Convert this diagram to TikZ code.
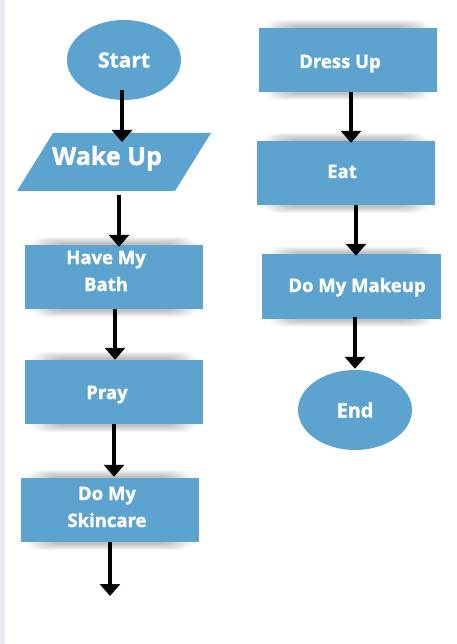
\documentclass[tikz,border=0pt]{standalone}
\usepackage{fontspec}
\setmainfont{Open Sans}[BoldFeatures={FakeBold=1.2}]
\usetikzlibrary{arrows.meta,calc,backgrounds,shapes.geometric}
\definecolor{boxblue}{RGB}{92,164,207}
\definecolor{stripgray}{RGB}{233,234,239}
\newcommand{\softshadow}[1]{%
  \foreach \k in {0,...,6}{%
    \fill[black,opacity=0.04,rounded corners=18pt]
      ($(#1.center)+(-86+3*\k,-40+\k)$) rectangle ($(#1.center)+(86-3*\k,40-\k)$);}}
\begin{document}
\begin{tikzpicture}[x=1pt,y=-1pt,
  box/.style={rectangle, fill=boxblue, minimum width=178pt, minimum height=64pt, inner sep=0pt},
  oval/.style={ellipse, fill=boxblue, minimum width=114pt, minimum height=80pt, inner sep=0pt,
    text=white, font=\bfseries\fontsize{21}{25}\selectfont},
  txt/.style={text=white, font=\bfseries\fontsize{18.5}{27}\selectfont, align=center,
    inner sep=0pt, anchor=base},
  arr/.style={line width=4pt, -{Triangle[width=20pt,length=12pt]}}]
\useasboundingbox (0,0) rectangle (456,644);
\fill[stripgray] (0,0) rectangle (5,644);

% left column
\node[oval] (start) at (124,60) {Start};
\fill[boxblue] (53,133) -- (211,133) -- (175,191) -- (17,191) -- cycle;
\node[txt, font=\bfseries\fontsize{25}{30}\selectfont] (wake) at (107,165) {Wake Up};
\node[box] (bath) at (114,277) {};
\node[txt] (bathT) at (106,291) {Have My\\Bath};
\node[box] (pray) at (114,392) {};
\node[txt] (prayT) at (107,399) {Pray};
\node[box] (skin) at (109.5,510) {};
\node[txt] (skinT) at (107,527) {Do My\\Skincare};
\coordinate (loose) at (110,596);

% right column
\node[box] (dress) at (348,60) {};
\node[txt] (dressT) at (340,68) {Dress Up};
\node[box] (eat) at (346,173) {};
\node[txt] (eatT) at (342,178) {Eat};
\node[box, minimum width=179pt, minimum height=65pt] (makeup) at (351.5,286.5) {};
\node[txt] (makeupT) at (357,292) {Do My Makeup};
\node[oval, font=\bfseries\fontsize{20}{24}\selectfont] (end) at (355,410) {End};

\begin{pgfonlayer}{background}
  \softshadow{bath}
  \softshadow{pray}
  \softshadow{skin}
  \softshadow{dress}
  \softshadow{eat}
  \softshadow{makeup}
\end{pgfonlayer}

% connectors
\draw[arr] ($(start.center)+(-2,30)$) -- ($(wake.base)+(15,-23)$);
\draw[arr] ($(wake.base)+(12,30)$) -- ($(bath.north)+(5,2)$);
\draw[arr] ($(bath.south)+(1,0)$) -- ($(pray.north)+(1,0)$);
\draw[arr] (pray.south) -- ($(skin.north)+(4.5,-1)$);
\draw[arr] ($(skin.south)+(0.5,0)$) -- (loose);
\draw[arr] ($(dress.south)+(3,0)$) -- ($(eat.north)+(5,2)$);
\draw[arr] ($(eat.south)+(10,0)$) -- ($(makeup.north)+(4.5,2)$);
\draw[arr] ($(makeup.south)+(3.5,-2)$) -- ($(end.north)+(0,-1)$);
\end{tikzpicture}
\end{document}
